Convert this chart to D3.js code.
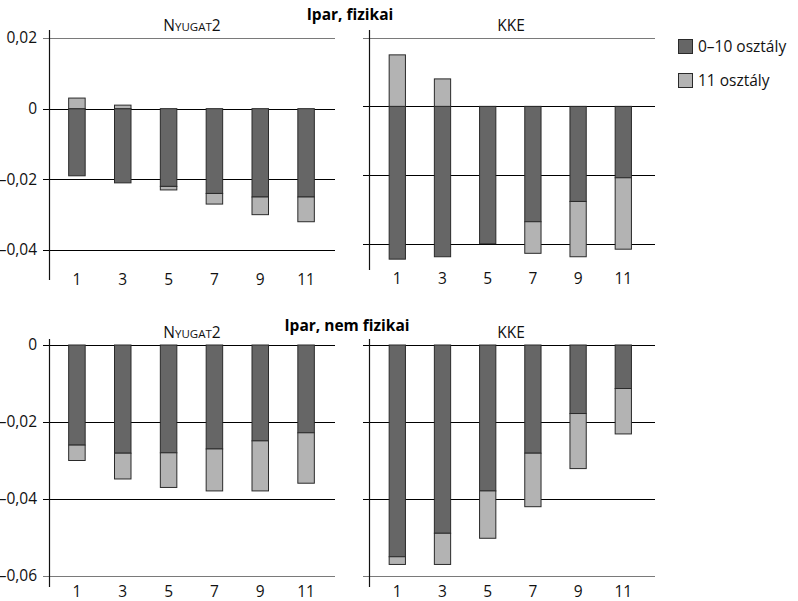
<!DOCTYPE html>
<html><head><meta charset="utf-8">
<script src="https://cdn.jsdelivr.net/npm/d3@7"></script>
<style>
body{margin:0;background:#fff;}
svg{display:block;}
</style></head>
<body><svg id="c" width="798" height="601"></svg>
<script>
const categories = ["1","3","5","7","9","11"];
const ticksTop = [0.02, 0, -0.02, -0.04];
const ticksBottom = [0, -0.02, -0.04, -0.06];
const seriesNames = ["0–10 osztály", "11 osztály"];
const titles = ["Ipar, fizikai", "Ipar, nem fizikai"];
const fizNyugatBase = [-0.019, -0.021, -0.022, -0.024, -0.025, -0.025];
const fizNyugat11   = [0.003, 0.001, -0.001, -0.003, -0.005, -0.007];
const fizKKEBase    = [-0.0445, -0.0438, -0.040, -0.0336, -0.0277, -0.0208];
const fizKKE11      = [0.015, 0.008, 0, -0.0092, -0.0161, -0.0208];
const nemNyugatBase = [-0.026, -0.0281, -0.028, -0.027, -0.0249, -0.0228];
const nemNyugat11   = [-0.004, -0.0067, -0.009, -0.0109, -0.013, -0.0131];
const nemKKEBase    = [-0.055, -0.0489, -0.0379, -0.0281, -0.0178, -0.0113];
const nemKKE11      = [-0.002, -0.0081, -0.0123, -0.0139, -0.0143, -0.0118];

const DARK = "#666666", LIGHT = "#b3b3b3", STROKE = "#2a2a2a";
const FONT = "'Open Sans', sans-serif";
const NARROW = "'Liberation Sans Narrow', 'Open Sans', sans-serif";

const svg = d3.select("#c");

const fmt = d => d === 0 ? "0" : d3.format(".2f")(Math.abs(d)).replace(".", ",").replace(/^/, d < 0 ? "–" : "");

const panels = [
  {name:"nyugat", base: fizNyugatBase, extra: fizNyugat11, ticks: ticksTop, dom:[-0.04,0.02], yr:[250,38], ax:49, gx1:335, br:[54,329], ay:[30,280], lab:285, labels:true, sub:[192,31], grayTop:true, grayBottom:false},
  {name:"kke", base: fizKKEBase, extra: fizKKE11, ticks: ticksTop, dom:[-0.04,0.02], yr:[243.7,37.7], ax:369, gx1:655, br:[374.7,645.9], ay:[30,270], lab:284, labels:false, sub:[511,31], grayTop:true, grayBottom:false},
  {name:"nyugat", base: nemNyugatBase, extra: nemNyugat11, ticks: ticksBottom, dom:[-0.06,0], yr:[576,345], ax:49, gx1:335, br:[54,329], ay:[339,587], lab:597, labels:true, sub:[192,338], grayTop:false, grayBottom:true},
  {name:"kke", base: nemKKEBase, extra: nemKKE11, ticks: ticksBottom, dom:[-0.06,0], yr:[576,345], ax:369, gx1:655, br:[374.7,645.9], ay:[339,587], lab:597, labels:false, sub:[511,338], grayTop:false, grayBottom:true}
];

panels.forEach(p => {
  const g = svg.append("g");
  const y = d3.scaleLinear().domain(p.dom).range(p.yr);
  const x = d3.scaleBand().domain(categories).range(p.br).paddingInner(0.64).paddingOuter(0.32);
  const tmin = d3.min(p.ticks), tmax = d3.max(p.ticks);

  g.selectAll("line.grid").data(p.ticks).join("line")
    .attr("x1", p.ax - 6).attr("x2", p.gx1)
    .attr("y1", d => Math.round(y(d)) + 0.5).attr("y2", d => Math.round(y(d)) + 0.5)
    .attr("stroke", d => (d === tmax && p.grayTop) || (d === tmin && p.grayBottom) ? "#7a7a7a" : "#000")
    .attr("stroke-width", 1);

  if (p.labels) {
    const ya = d3.axisLeft(y).tickValues(p.ticks).tickSize(6).tickPadding(6).tickFormat(fmt);
    const ag = g.append("g").attr("transform", `translate(${p.ax},0)`).call(ya);
    ag.select(".domain").remove();
    ag.selectAll(".tick line").remove();
    ag.selectAll("text").attr("font-family", NARROW).attr("font-size", 15.5).attr("fill", "#111");
  }

  g.append("line").attr("x1", p.ax + 0.5).attr("x2", p.ax + 0.5)
    .attr("y1", p.ay[0]).attr("y2", p.ay[1]).attr("stroke", "#111").attr("stroke-width", 1.2);

  const rows = categories.map((c, i) => ({c, base: p.base[i], extra: p.extra[i]}));
  g.selectAll("rect.dark").data(rows).join("rect")
    .attr("x", d => x(d.c)).attr("width", x.bandwidth())
    .attr("y", d => y(Math.max(0, d.base))).attr("height", d => Math.abs(y(d.base) - y(0)))
    .attr("fill", DARK).attr("stroke", STROKE).attr("stroke-width", 1);
  g.selectAll("rect.light").data(rows.filter(d => d.extra !== 0)).join("rect")
    .attr("x", d => x(d.c)).attr("width", x.bandwidth())
    .attr("y", d => d.extra > 0 ? y(d.extra) : y(d.base))
    .attr("height", d => d.extra > 0 ? y(0) - y(d.extra) : y(d.base + d.extra) - y(d.base))
    .attr("fill", LIGHT).attr("stroke", STROKE).attr("stroke-width", 1);

  const xa = d3.axisBottom(x).tickSize(0).tickPadding(0);
  const xg = g.append("g").attr("transform", `translate(0,${p.lab})`).call(xa);
  xg.select(".domain").remove();
  xg.selectAll("text").attr("dy", null).attr("y", 0)
    .attr("font-family", NARROW).attr("font-size", 15.5).attr("fill", "#111");

  const st = g.append("text").attr("x", p.sub[0]).attr("y", p.sub[1]).attr("text-anchor", "middle")
    .attr("font-family", FONT).attr("font-size", 15.5).attr("fill", "#111");
  if (p.name === "nyugat") {
    st.append("tspan").text("N");
    st.append("tspan").attr("font-size", 11.5).text("YUGAT");
    st.append("tspan").text("2");
  } else {
    st.text("KKE");
  }
});

svg.append("text").attr("x", 350).attr("y", 20).attr("text-anchor", "middle")
  .attr("font-family", FONT).attr("font-weight", "bold").attr("font-size", 15.5).attr("fill", "#000").text(titles[0]);
svg.append("text").attr("x", 347).attr("y", 331).attr("text-anchor", "middle")
  .attr("font-family", FONT).attr("font-weight", "bold").attr("font-size", 15.5).attr("fill", "#000").text(titles[1]);

const lg = svg.append("g");
const colors = [DARK, LIGHT];
seriesNames.forEach((s, i) => {
  const yy = 39 + i * 34;
  lg.append("rect").attr("x", 678.5).attr("y", yy + 0.5).attr("width", 14).attr("height", 14)
    .attr("fill", colors[i]).attr("stroke", STROKE).attr("stroke-width", 1);
  lg.append("text").attr("x", 698).attr("y", yy + 13).attr("font-family", FONT).attr("font-size", 15.5)
    .attr("fill", "#111").text(s);
});
</script></body></html>
